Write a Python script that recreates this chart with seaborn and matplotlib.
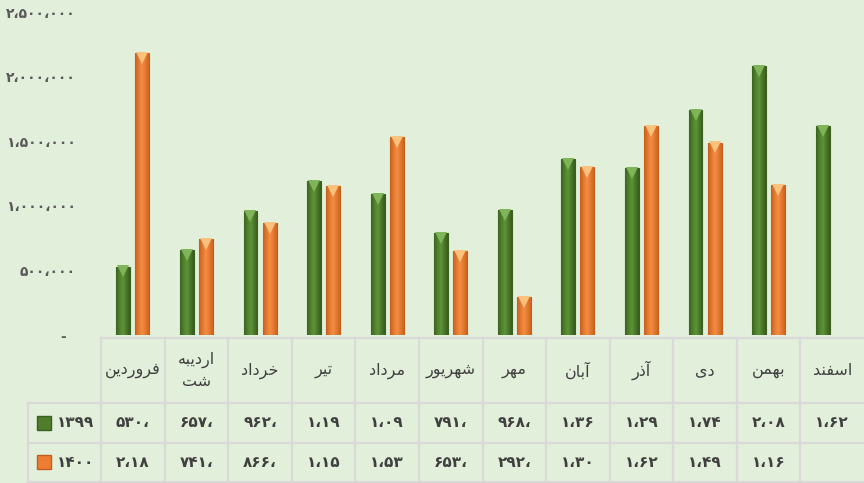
import numpy as np
import pandas as pd
import matplotlib
matplotlib.use('Agg')
import matplotlib.pyplot as plt
import seaborn as sns
from matplotlib.colors import LinearSegmentedColormap
from matplotlib.transforms import blended_transform_factory, offset_copy

# داده ها
months = ['فروردین', 'اردیبه\nشت', 'خرداد', 'تیر', 'مرداد', 'شهریور',
          'مهر', 'آبان', 'آذر', 'دی', 'بهمن', 'اسفند']
years = ['۱۳۹۹', '۱۴۰۰']
sales_1399 = [530000, 657000, 962000, 1190000, 1090000, 791000,
              968000, 1360000, 1290000, 1740000, 2080000, 1620000]
sales_1400 = [2180000, 741000, 866000, 1150000, 1530000, 653000,
              292000, 1300000, 1620000, 1490000, 1160000, np.nan]
yticks = [0, 500000, 1000000, 1500000, 2000000, 2500000]

GREEN = '#4e7d2c'
ORANGE = '#ed7d31'
BG = '#e2efda'

# شکل دادن حروف فارسی (matplotlib خودش حروف را به هم نمی چسباند)
FORMS = {
    'ا': ('\uFE8D', '\uFE8E', None, None),
    'آ': ('\uFE81', '\uFE82', None, None),
    'ب': ('\uFE8F', '\uFE90', '\uFE91', '\uFE92'),
    'ت': ('\uFE95', '\uFE96', '\uFE97', '\uFE98'),
    'خ': ('\uFEA5', '\uFEA6', '\uFEA7', '\uFEA8'),
    'د': ('\uFEA9', '\uFEAA', None, None),
    'ذ': ('\uFEAB', '\uFEAC', None, None),
    'ر': ('\uFEAD', '\uFEAE', None, None),
    'س': ('\uFEB1', '\uFEB2', '\uFEB3', '\uFEB4'),
    'ش': ('\uFEB5', '\uFEB6', '\uFEB7', '\uFEB8'),
    'ف': ('\uFED1', '\uFED2', '\uFED3', '\uFED4'),
    'م': ('\uFEE1', '\uFEE2', '\uFEE3', '\uFEE4'),
    'ن': ('\uFEE5', '\uFEE6', '\uFEE7', '\uFEE8'),
    'ه': ('\uFEE9', '\uFEEA', '\uFEEB', '\uFEEC'),
    'و': ('\uFEED', '\uFEEE', None, None),
    'ی': ('\uFEEF', '\uFEF0', '\uFEF3', '\uFEF4'),
}


def shape(text):
    lines = []
    for word in text.split('\n'):
        out = []
        for i, ch in enumerate(word):
            f = FORMS.get(ch)
            if f is None:
                out.append(ch)
                continue
            prev = word[i - 1] if i > 0 else None
            nxt = word[i + 1] if i + 1 < len(word) else None
            jp = prev in FORMS and FORMS[prev][2] is not None
            jn = f[2] is not None and nxt in FORMS
            if jp and jn:
                out.append(f[3])
            elif jp:
                out.append(f[1])
            elif jn:
                out.append(f[2])
            else:
                out.append(f[0])
        lines.append(''.join(reversed(out)))
    return '\n'.join(lines)


def fa(s):
    return s.translate(str.maketrans('0123456789,.', '۰۱۲۳۴۵۶۷۸۹،،'))


def cell(v):
    if np.isnan(v):
        return ''
    if v >= 1e6:
        return fa(f'{v / 1e6:.2f}')
    return fa(f'{v / 1000:.0f}') + '،'


df = pd.DataFrame({
    'month': months * 2,
    'year': [years[0]] * 12 + [years[1]] * 12,
    'sales': sales_1399 + sales_1400,
})

plt.rcParams['font.family'] = ['DejaVu Sans']
fig = plt.figure(figsize=(8.64, 4.83), dpi=100, facecolor=BG)
ax = fig.add_axes([0.117, 0.3064, 0.883, 0.6687])
ax.set_facecolor(BG)

sns.barplot(data=df, x='month', y='sales', hue='year', order=months,
            hue_order=years, palette=[GREEN, ORANGE], saturation=1,
            width=0.6, gap=0.27, legend=False, ax=ax, linewidth=0.8)

# گرادیان روی میله ها
styles = [
    (LinearSegmentedColormap.from_list(
        'g', ['#3b6320', '#4f802d', '#5e9439', '#4a7829', '#385d1f']),
     '#7fb458', '#3a5f20'),
    (LinearSegmentedColormap.from_list(
        'o', ['#c2601f', '#e5772d', '#f28e45', '#e57a31', '#cc6621']),
     '#fbc27e', '#c05e1e'),
]
tip_tr = offset_copy(ax.transData, fig=fig, y=-3.5, units='points')
for cont, (cmap, tip, edge) in zip(ax.containers, styles):
    for p in cont.patches:
        h = p.get_height()
        if not np.isfinite(h) or h <= 0:
            continue
        p.set_edgecolor(edge)
        x0, w = p.get_x(), p.get_width()
        im = ax.imshow(np.linspace(0, 1, 64)[None, :], cmap=cmap, aspect='auto',
                       extent=(x0, x0 + w, 0, h), zorder=p.get_zorder() + 0.1,
                       interpolation='bilinear')
        im.set_clip_path(p)
        ax.plot(x0 + w / 2, h, marker='v', markersize=8, color=tip,
                markeredgewidth=0, zorder=p.get_zorder() + 0.2,
                transform=tip_tr, clip_on=False)

ax.set_xlim(-0.5, 11.5)
ax.set_ylim(0, 2500000)
ax.set_yticks(yticks)
ax.set_yticklabels(['-  ' if v == 0 else fa(f'{v:,}') for v in yticks],
                   fontsize=10, fontweight='bold', color='#595959')
ax.tick_params(axis='y', length=0, pad=18)
ax.set_xticks([])
ax.set_xlabel('')
ax.set_ylabel('')
sns.despine(ax=ax, left=True, bottom=True)

# جدول داده ها
tr = blended_transform_factory(ax.transData, ax.transAxes)
lc = '#d9d9d9'
y_top, y_h, y_r1, y_bot = -0.0093, -0.2105, -0.334, -0.455
x_lab = -0.0957
for i in range(12):
    ax.plot([i - 0.5, i - 0.5], [y_top, y_bot], color=lc, lw=1.6,
            transform=tr, clip_on=False)
ax.plot([-0.5, 11.5], [y_top, y_top], color=lc, lw=1.6, transform=tr, clip_on=False)
for yy in (y_h, y_r1, y_bot):
    ax.plot([x_lab, 1.0], [yy, yy], color=lc, lw=1.6, transform=ax.transAxes,
            clip_on=False)
ax.plot([x_lab, x_lab], [y_h, y_bot], color=lc, lw=1.6, transform=ax.transAxes,
        clip_on=False)

for i, m in enumerate(months):
    ax.text(i, (y_top + y_h) / 2, shape(m), transform=tr, ha='center',
            va='center', fontsize=11.5, color='#404040', linespacing=1.5)
    ax.text(i, (y_h + y_r1) / 2, cell(sales_1399[i]), transform=tr,
            ha='center', va='center', fontsize=11, color='#404040',
            fontweight='bold')
    ax.text(i, (y_r1 + y_bot) / 2, cell(sales_1400[i]), transform=tr,
            ha='center', va='center', fontsize=11, color='#404040',
            fontweight='bold')

for yy, lab, col, ec in [((y_h + y_r1) / 2, years[0], GREEN, '#3a5f20'),
                         ((y_r1 + y_bot) / 2, years[1], ORANGE, '#c05e1e')]:
    ax.plot(-0.0754, yy, marker='s', markersize=10, color=col,
            markeredgecolor=ec, transform=ax.transAxes, clip_on=False)
    ax.text(-0.033, yy, lab, transform=ax.transAxes, ha='center', va='center',
            fontsize=11, color='#404040', fontweight='bold')

fig.savefig('out.png', dpi=100, facecolor=BG)
